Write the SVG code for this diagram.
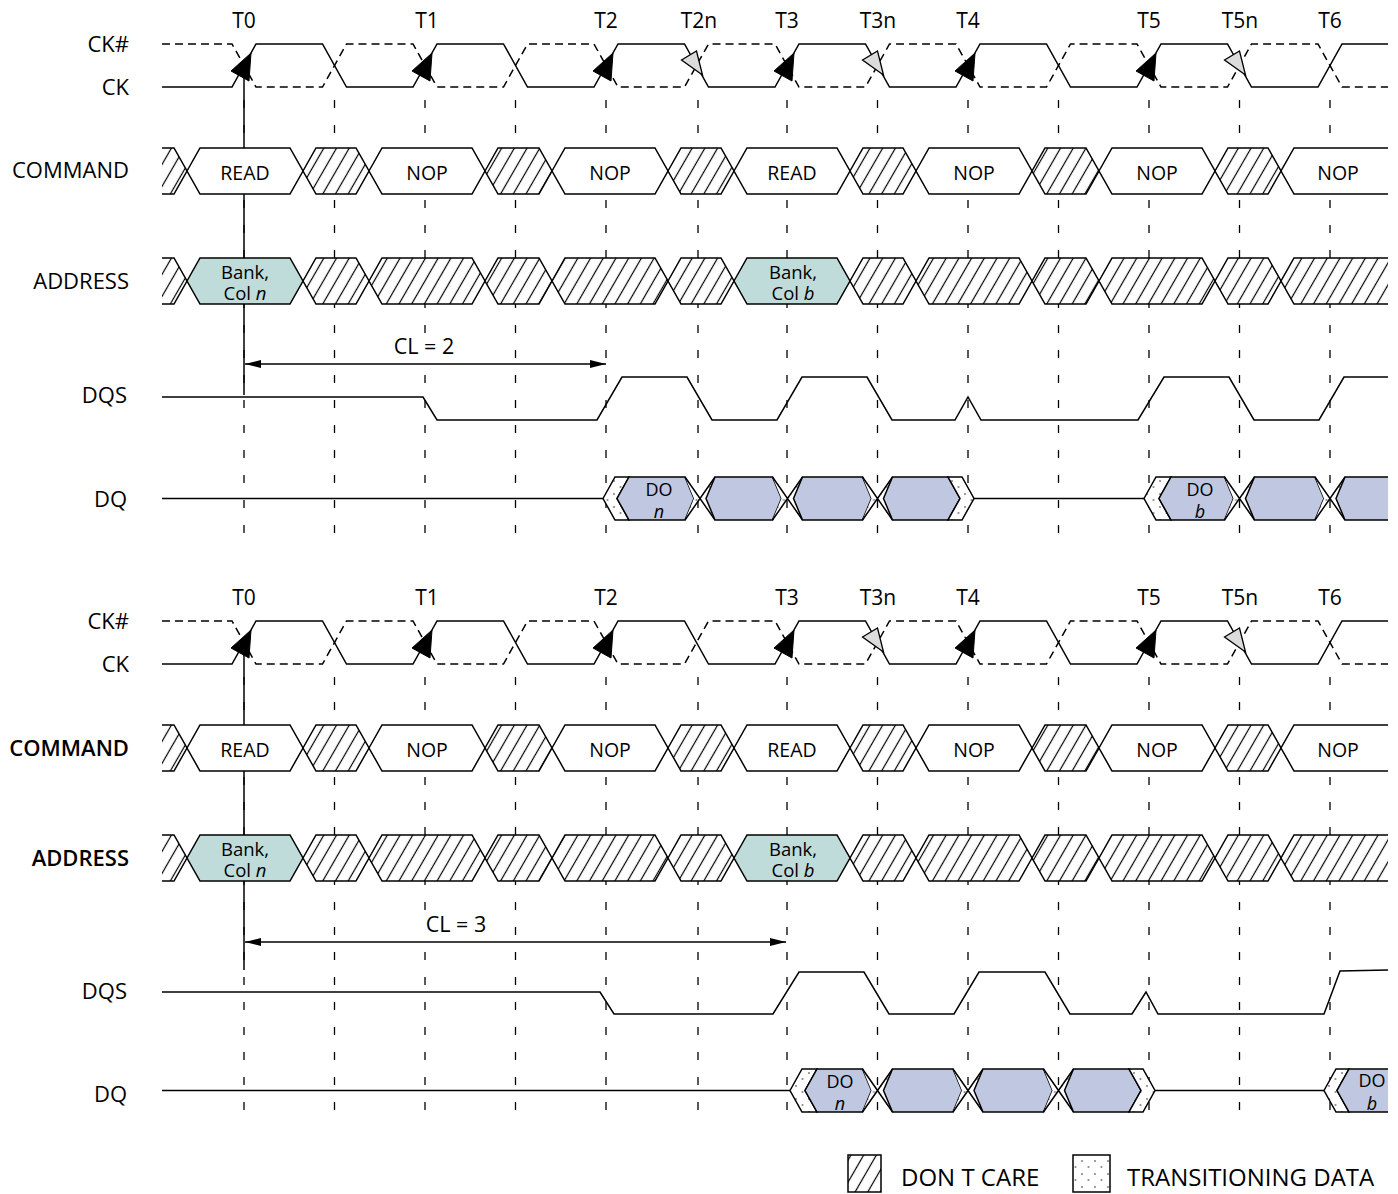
<svg xmlns="http://www.w3.org/2000/svg" xmlns:xlink="http://www.w3.org/1999/xlink" width="1398" height="1194" viewBox="0 0 1398 1194">
<style>
text{font-family:"Open Sans","Noto Sans","DejaVu Sans",sans-serif;fill:#000}
.ln{fill:none;stroke:#000;stroke-width:1.5}
.ckd{fill:none;stroke:#000;stroke-width:1.5;stroke-dasharray:8 5}
.grid{fill:none;stroke:#000;stroke-width:1.3;stroke-dasharray:8 17}
.wbox{fill:#fff;stroke:#000;stroke-width:1.5}
.hbox{fill:url(#hatch);stroke:#000;stroke-width:1.5}
.hfill{fill:url(#hatch);stroke:none}
.wfill{fill:#fff;stroke:none}
.tbox{fill:#bfdcda;stroke:#000;stroke-width:1.5}
.dbox{fill:#c0c7e1;stroke:#000;stroke-width:1.5}
.dfill{fill:#c0c7e1;stroke:none}
.sbox{fill:url(#dots);stroke:#000;stroke-width:1.5}
.sfill{fill:url(#dots);stroke:none}
.blk{fill:#000;stroke:#000;stroke-width:1}
.gry{fill:#dcdcdc;stroke:#000;stroke-width:1.3}
.lbl{font-size:22px;text-anchor:end}
.sb{font-weight:600}
.tl{font-size:21px;text-anchor:middle}
.bt{font-size:19.5px;text-anchor:middle}
.at{font-size:18.5px;text-anchor:middle}
.dt{font-size:18px;text-anchor:middle}
.cl{font-size:21.5px;text-anchor:middle}
.lg{font-size:24px}
.it{font-style:italic}
</style>
<defs>
<pattern id="hatch" patternUnits="userSpaceOnUse" width="11" height="11" patternTransform="rotate(30)">
<rect width="11" height="11" fill="#fff"/>
<line x1="5.5" y1="-1" x2="5.5" y2="12" stroke="#000" stroke-width="1.2"/>
</pattern>
<pattern id="dots" patternUnits="userSpaceOnUse" width="13" height="13">
<rect width="13" height="13" fill="#fff"/>
<circle cx="3" cy="4" r="1.1" fill="#8a8a8a"/>
<circle cx="9.5" cy="10" r="1.1" fill="#8a8a8a"/>
</pattern>
<marker id="ah" markerUnits="userSpaceOnUse" markerWidth="16" markerHeight="8" refX="16" refY="4" orient="auto-start-reverse">
<path d="M0,0 L16,4 L0,8 z" fill="#000"/>
</marker>
<polygon id="wL" points="162,0 174,0 187,23 174,46 162,46"/>
<path id="wLs" d="M162,0 L174,0 L187,23 L174,46 L162,46"/>
<polygon id="d0" points="187,23 200,0 290,0 303,23 290,46 200,46"/>
<polygon id="c0" points="303,23 316,0 356,0 369,23 356,46 316,46"/>
<polygon id="d1" points="369,23 382,0 472,0 485,23 472,46 382,46"/>
<polygon id="c1" points="485,23 498,0 539,0 552,23 539,46 498,46"/>
<polygon id="d2" points="552,23 565,0 655,0 668,23 655,46 565,46"/>
<polygon id="c2" points="668,23 681,0 721,0 734,23 721,46 681,46"/>
<polygon id="d3" points="734,23 747,0 837,0 850,23 837,46 747,46"/>
<polygon id="c3" points="850,23 863,0 903,0 916,23 903,46 863,46"/>
<polygon id="d4" points="916,23 929,0 1019,0 1032,23 1019,46 929,46"/>
<polygon id="c4" points="1032,23 1045,0 1086,0 1099,23 1086,46 1045,46"/>
<polygon id="d5" points="1099,23 1112,0 1202,0 1215,23 1202,46 1112,46"/>
<polygon id="c5" points="1215,23 1228,0 1268,0 1281,23 1268,46 1228,46"/>
<polygon id="d6" points="1281,23 1294,0 1388,0 1388,46 1294,46"/>
<path id="d6s" d="M1388,0 L1294,0 L1281,23 L1294,46 L1388,46"/>
<g id="xt">
<polygon class="sfill" points="-15,0 0,21.5 -15,43 -6,21.5"/>
<polygon class="sfill" points="15,0 0,21.5 15,43 6,21.5"/>
<path class="ln" d="M-15,0 L15,43 M-15,43 L15,0"/>
</g>
<path id="gridp" class="grid" d="M244,100 V545 M334.5,100 V545 M425,100 V545 M515.5,100 V545 M606,100 V545 M698,100 V545 M787,100 V545 M877.5,100 V545 M968,100 V545 M1058.5,100 V545 M1149,100 V545 M1239.5,100 V545 M1330,100 V545"/>
<path id="ckp" class="ln" d="M162,87 L232,87 L256,44 L322.5,44 L346.5,87 L413,87 L437,44 L503.5,44 L527.5,87 L594,87 L618,44 L684.5,44 L708.5,87 L775,87 L799,44 L865.5,44 L889.5,87 L956,87 L980,44 L1046.5,44 L1070.5,87 L1137,87 L1161,44 L1227.5,44 L1251.5,87 L1318,87 L1342,44 L1388,44"/>
<path id="ckbp" class="ckd" d="M162,44 L232,44 L256,87 L322.5,87 L346.5,44 L413,44 L437,87 L503.5,87 L527.5,44 L594,44 L618,87 L684.5,87 L708.5,44 L775,44 L799,87 L865.5,87 L889.5,44 L956,44 L980,87 L1046.5,87 L1070.5,44 L1137,44 L1161,87 L1227.5,87 L1251.5,44 L1318,44 L1342,87 L1388,87"/>
</defs>
<rect width="1398" height="1194" fill="#fff"/>

<!-- grid lines -->
<g id="grid-top"><use href="#gridp"/></g>
<g id="grid-bottom" transform="translate(0,577)"><use href="#gridp"/></g>
<g id="t0-lines">
<path class="ln" d="M244,62 V395"/>
<path class="ln" d="M244,639 V970"/>
</g>

<!-- ===== TOP SECTION ===== -->
<g id="clock-top">
<text class="lbl" x="129" y="52">CK#</text>
<text class="lbl" x="129" y="95">CK</text>
<text class="tl" x="244" y="28">T0</text>
<text class="tl" x="427" y="28">T1</text>
<text class="tl" x="606" y="28">T2</text>
<text class="tl" x="699" y="28">T2n</text>
<text class="tl" x="787" y="28">T3</text>
<text class="tl" x="878" y="28">T3n</text>
<text class="tl" x="968" y="28">T4</text>
<text class="tl" x="1149" y="28">T5</text>
<text class="tl" x="1240" y="28">T5n</text>
<text class="tl" x="1330" y="28">T6</text>
<use href="#ckbp"/>
<use href="#ckp"/>
<polygon class="blk" points="231,71 251,53 249,81"/>
<polygon class="blk" points="412,71 432,53 430,81"/>
<polygon class="blk" points="593,71 613,53 611,81"/>
<polygon class="blk" points="774,71 794,53 792,81"/>
<polygon class="blk" points="955,71 975,53 973,81"/>
<polygon class="blk" points="1136,71 1156,53 1154,81"/>
<polygon class="gry" points="681.5,60 696.5,51 702.5,75"/>
<polygon class="gry" points="862.5,60 877.5,51 883.5,75"/>
<polygon class="gry" points="1224.5,60 1239.5,51 1245.5,75"/>
</g>

<g id="command-top">
<text class="lbl" x="129" y="178">COMMAND</text>
<g transform="translate(0,148)">
<use href="#wL" class="hfill"/><use href="#wLs" class="ln"/>
<use href="#d0" class="wbox"/><use href="#c0" class="hbox"/>
<use href="#d1" class="wbox"/><use href="#c1" class="hbox"/>
<use href="#d2" class="wbox"/><use href="#c2" class="hbox"/>
<use href="#d3" class="wbox"/><use href="#c3" class="hbox"/>
<use href="#d4" class="wbox"/><use href="#c4" class="hbox"/>
<use href="#d5" class="wbox"/><use href="#c5" class="hbox"/>
<use href="#d6" class="wfill"/><use href="#d6s" class="ln"/>
<text class="bt" x="245" y="32">READ</text>
<text class="bt" x="427" y="32">NOP</text>
<text class="bt" x="610" y="32">NOP</text>
<text class="bt" x="792" y="32">READ</text>
<text class="bt" x="974" y="32">NOP</text>
<text class="bt" x="1157" y="32">NOP</text>
<text class="bt" x="1338" y="32">NOP</text>
</g>
</g>

<g id="address-top">
<text class="lbl" x="129" y="289">ADDRESS</text>
<g transform="translate(0,258)">
<use href="#wL" class="hfill"/><use href="#wLs" class="ln"/>
<use href="#d0" class="tbox"/><use href="#c0" class="hbox"/>
<use href="#d1" class="hbox"/><use href="#c1" class="hbox"/>
<use href="#d2" class="hbox"/><use href="#c2" class="hbox"/>
<use href="#d3" class="tbox"/><use href="#c3" class="hbox"/>
<use href="#d4" class="hbox"/><use href="#c4" class="hbox"/>
<use href="#d5" class="hbox"/><use href="#c5" class="hbox"/>
<use href="#d6" class="hfill"/><use href="#d6s" class="ln"/>
<text class="at" x="245" y="21">Bank,</text>
<text class="at" x="245" y="42">Col <tspan class="it">n</tspan></text>
<text class="at" x="793" y="21">Bank,</text>
<text class="at" x="793" y="42">Col <tspan class="it">b</tspan></text>
</g>
</g>

<g id="cl2">
<rect x="388" y="334" width="72" height="24" fill="#fff"/>
<text class="cl" x="424" y="354">CL = 2</text>
<path class="ln" d="M245,364 H606" marker-start="url(#ah)" marker-end="url(#ah)"/>
</g>

<g id="dqs-top">
<text class="lbl" x="127" y="403">DQS</text>
<path class="ln" d="M162,397 L423,397 L437,420 L597,420 L622,377 L687,377 L712,420 L777,420 L802,377 L867,377 L892,420 L955,420 L968,397 L981,420 L1138,420 L1164,377 L1229,377 L1254,420 L1319,420 L1344,377 L1388,377"/>
</g>

<g id="dq-top">
<text class="lbl" x="127" y="507">DQ</text>
<g transform="translate(0,477)">
<path class="ln" d="M162,21.5 L603,21.5 M974,21.5 L1144,21.5"/>
<polygon class="sbox" points="603,21.5 615,0 629,0 617,21.5 629,43 615,43"/>
<polygon class="dbox" points="617,21.5 629,0 685,0 694,21.5 685,43 629,43"/>
<use href="#xt" x="700"/>
<polygon class="dbox" points="706,21.5 715,0 772.5,0 781.5,21.5 772.5,43 715,43"/>
<use href="#xt" x="787.5"/>
<polygon class="dbox" points="793.5,21.5 802.5,0 862.5,0 871.5,21.5 862.5,43 802.5,43"/>
<use href="#xt" x="877.5"/>
<polygon class="dbox" points="883.5,21.5 892.5,0 948,0 960,21.5 948,43 892.5,43"/>
<polygon class="sbox" points="948,0 962,0 974,21.5 962,43 948,43 960,21.5"/>
<polygon class="sbox" points="1144,21.5 1156,0 1171,0 1159,21.5 1171,43 1156,43"/>
<polygon class="dbox" points="1159,21.5 1171,0 1224.5,0 1233.5,21.5 1224.5,43 1171,43"/>
<use href="#xt" x="1239.5"/>
<polygon class="dbox" points="1245.5,21.5 1254.5,0 1315,0 1324,21.5 1315,43 1254.5,43"/>
<use href="#xt" x="1330"/>
<polygon class="dfill" points="1336,21.5 1345,0 1388,0 1388,43 1345,43"/>
<path class="ln" d="M1388,0 L1345,0 L1336,21.5 L1345,43 L1388,43"/>
<text class="dt" x="659" y="19">DO</text>
<text class="dt it" x="659" y="41">n</text>
<text class="dt" x="1200" y="19">DO</text>
<text class="dt it" x="1200" y="41">b</text>
</g>
</g>

<!-- ===== BOTTOM SECTION ===== -->
<g id="clock-bottom">
<text class="lbl" x="129" y="629">CK#</text>
<text class="lbl" x="129" y="672">CK</text>
<text class="tl" x="244" y="605">T0</text>
<text class="tl" x="427" y="605">T1</text>
<text class="tl" x="606" y="605">T2</text>
<text class="tl" x="787" y="605">T3</text>
<text class="tl" x="878" y="605">T3n</text>
<text class="tl" x="968" y="605">T4</text>
<text class="tl" x="1149" y="605">T5</text>
<text class="tl" x="1240" y="605">T5n</text>
<text class="tl" x="1330" y="605">T6</text>
<g transform="translate(0,577)">
<use href="#ckbp"/>
<use href="#ckp"/>
<polygon class="blk" points="231,71 251,53 249,81"/>
<polygon class="blk" points="412,71 432,53 430,81"/>
<polygon class="blk" points="593,71 613,53 611,81"/>
<polygon class="blk" points="774,71 794,53 792,81"/>
<polygon class="blk" points="955,71 975,53 973,81"/>
<polygon class="blk" points="1136,71 1156,53 1154,81"/>
<polygon class="gry" points="862.5,60 877.5,51 883.5,75"/>
<polygon class="gry" points="1224.5,60 1239.5,51 1245.5,75"/>
</g>
</g>

<g id="command-bottom">
<text class="lbl sb" x="129" y="756">COMMAND</text>
<g transform="translate(0,725)">
<use href="#wL" class="hfill"/><use href="#wLs" class="ln"/>
<use href="#d0" class="wbox"/><use href="#c0" class="hbox"/>
<use href="#d1" class="wbox"/><use href="#c1" class="hbox"/>
<use href="#d2" class="wbox"/><use href="#c2" class="hbox"/>
<use href="#d3" class="wbox"/><use href="#c3" class="hbox"/>
<use href="#d4" class="wbox"/><use href="#c4" class="hbox"/>
<use href="#d5" class="wbox"/><use href="#c5" class="hbox"/>
<use href="#d6" class="wfill"/><use href="#d6s" class="ln"/>
<text class="bt" x="245" y="32">READ</text>
<text class="bt" x="427" y="32">NOP</text>
<text class="bt" x="610" y="32">NOP</text>
<text class="bt" x="792" y="32">READ</text>
<text class="bt" x="974" y="32">NOP</text>
<text class="bt" x="1157" y="32">NOP</text>
<text class="bt" x="1338" y="32">NOP</text>
</g>
</g>

<g id="address-bottom">
<text class="lbl sb" x="129" y="866">ADDRESS</text>
<g transform="translate(0,835)">
<use href="#wL" class="hfill"/><use href="#wLs" class="ln"/>
<use href="#d0" class="tbox"/><use href="#c0" class="hbox"/>
<use href="#d1" class="hbox"/><use href="#c1" class="hbox"/>
<use href="#d2" class="hbox"/><use href="#c2" class="hbox"/>
<use href="#d3" class="tbox"/><use href="#c3" class="hbox"/>
<use href="#d4" class="hbox"/><use href="#c4" class="hbox"/>
<use href="#d5" class="hbox"/><use href="#c5" class="hbox"/>
<use href="#d6" class="hfill"/><use href="#d6s" class="ln"/>
<text class="at" x="245" y="21">Bank,</text>
<text class="at" x="245" y="42">Col <tspan class="it">n</tspan></text>
<text class="at" x="793" y="21">Bank,</text>
<text class="at" x="793" y="42">Col <tspan class="it">b</tspan></text>
</g>
</g>

<g id="cl3">
<rect x="420" y="912" width="72" height="24" fill="#fff"/>
<text class="cl" x="456" y="932">CL = 3</text>
<path class="ln" d="M245,942 H786" marker-start="url(#ah)" marker-end="url(#ah)"/>
</g>

<g id="dqs-bottom">
<text class="lbl" x="127" y="999">DQS</text>
<path class="ln" d="M162,992 L600,992 L614,1014 L773,1014 L799,972 L864,972 L889,1014 L954,1014 L979,972 L1045,972 L1070,1014 L1132,1014 L1146,992 L1158,1014 L1324,1014 L1340,971 L1388,970"/>
</g>

<g id="dq-bottom">
<text class="lbl" x="127" y="1102">DQ</text>
<g transform="translate(0,1069)">
<path class="ln" d="M162,21.5 L790,21.5 M1155,21.5 L1324,21.5"/>
<polygon class="sbox" points="790,21.5 802,0 817,0 805,21.5 817,43 802,43"/>
<polygon class="dbox" points="805,21.5 817,0 862.5,0 871.5,21.5 862.5,43 817,43"/>
<use href="#xt" x="877.5"/>
<polygon class="dbox" points="883.5,21.5 892.5,0 953,0 962,21.5 953,43 892.5,43"/>
<use href="#xt" x="968"/>
<polygon class="dbox" points="974,21.5 983,0 1043.5,0 1052.5,21.5 1043.5,43 983,43"/>
<use href="#xt" x="1058.5"/>
<polygon class="dbox" points="1064.5,21.5 1073.5,0 1129,0 1141,21.5 1129,43 1073.5,43"/>
<polygon class="sbox" points="1129,0 1143,0 1155,21.5 1143,43 1129,43 1141,21.5"/>
<polygon class="sbox" points="1324,21.5 1336,0 1349,0 1337,21.5 1349,43 1336,43"/>
<polygon class="dfill" points="1337,21.5 1349,0 1388,0 1388,43 1349,43"/>
<path class="ln" d="M1388,0 L1349,0 L1337,21.5 L1349,43 L1388,43"/>
<text class="dt" x="840" y="19">DO</text>
<text class="dt it" x="840" y="41">n</text>
<text class="dt" x="1372" y="18">DO</text>
<text class="dt it" x="1372" y="41">b</text>
</g>
</g>

<g id="legend">
<rect class="hbox" x="848" y="1155" width="33" height="37"/>
<text class="lg" x="901" y="1186">DON T CARE</text>
<rect class="sbox" x="1073" y="1155" width="37" height="37"/>
<text class="lg" x="1127" y="1186">TRANSITIONING DATA</text>
</g>
</svg>
